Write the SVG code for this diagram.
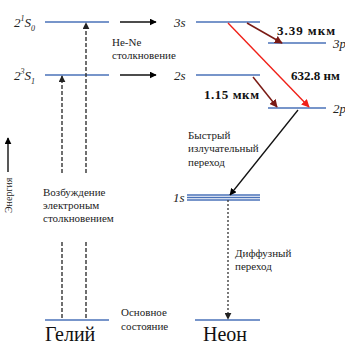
<svg xmlns="http://www.w3.org/2000/svg" width="345" height="345" viewBox="0 0 345 345" font-family="Liberation Serif, Times New Roman, Times, DejaVu Serif, serif">
<defs>
<marker id="ah" viewBox="0 0 10 10" refX="9" refY="5" markerWidth="7" markerHeight="7" orient="auto" markerUnits="userSpaceOnUse"><path d="M0,0 L10,5 L0,10 z" fill="#000"/></marker>
<marker id="ahd" viewBox="0 0 10 10" refX="9" refY="5" markerWidth="7" markerHeight="7" orient="auto" markerUnits="userSpaceOnUse"><path d="M0,0 L10,5 L0,10 z" fill="#222"/></marker>
<marker id="ahr" viewBox="0 0 10 10" refX="9" refY="5" markerWidth="8" markerHeight="8" orient="auto" markerUnits="userSpaceOnUse"><path d="M0,0 L10,5 L0,10 z" fill="#f02018"/></marker>
<marker id="ahb" viewBox="0 0 10 10" refX="9" refY="5" markerWidth="8" markerHeight="8" orient="auto" markerUnits="userSpaceOnUse"><path d="M0,0 L10,5 L0,10 z" fill="#7a1a14"/></marker>
</defs>
<style>
.lv{stroke:#4a72b8;stroke-width:1.6;fill:none}
.t{font-size:11px;fill:#222}
.lab{font-size:13px;font-style:italic;fill:#222}
.big{font-size:20px;fill:#111}
.bold{font-size:13px;font-weight:bold;fill:#111}
.dash{stroke:#333;stroke-width:1.4;stroke-dasharray:4,2;fill:none}
.dot{stroke:#333;stroke-width:1.3;stroke-dasharray:2,2;fill:none}
</style>
<rect width="345" height="345" fill="#fff"/>
<g id="he-2s0"><line class="lv" x1="45" y1="22" x2="109" y2="22"/><text class="lab" x="14" y="27">2<tspan dy="-6" font-size="8">1</tspan><tspan dy="6">S</tspan><tspan dy="4" font-size="8">0</tspan></text></g>
<g id="he-2s1"><line class="lv" x1="45" y1="75" x2="109" y2="75"/><text class="lab" x="14" y="80">2<tspan dy="-6" font-size="8">3</tspan><tspan dy="6">S</tspan><tspan dy="4" font-size="8">1</tspan></text></g>
<g id="he-ground"><line class="lv" x1="45" y1="320" x2="109" y2="320"/><text class="t" x="121" y="316">Основное</text><text class="t" x="121" y="330">состояние</text><text class="big" x="45" y="341">Гелий</text></g>
<g id="ne-3s"><line class="lv" x1="196" y1="22" x2="260" y2="22"/><text class="lab" x="174" y="27">3s</text></g>
<g id="ne-2s"><line class="lv" x1="196" y1="75" x2="260" y2="75"/><text class="lab" x="174" y="80">2s</text></g>
<g id="ne-3p"><line class="lv" x1="268" y1="43" x2="326" y2="43"/><text class="lab" x="333" y="48">3p</text></g>
<g id="ne-2p"><line class="lv" x1="268" y1="108" x2="326" y2="108"/><text class="lab" x="333" y="113">2p</text></g>
<g id="ne-1s"><line class="lv" x1="187" y1="195" x2="260" y2="195" stroke-width="1.2"/><line class="lv" x1="187" y1="197.5" x2="260" y2="197.5" stroke-width="1.2"/><line class="lv" x1="187" y1="200" x2="260" y2="200" stroke-width="1.2"/><text class="lab" x="173" y="202">1s</text></g>
<g id="ne-ground"><line class="lv" x1="195" y1="320" x2="260" y2="320"/><text class="big" x="203" y="341">Неон</text></g>
<g id="energy"><line x1="8" y1="172" x2="8" y2="138" stroke="#111" stroke-width="1.4" marker-end="url(#ah)"/><text class="t" style="font-size:10px" transform="translate(11.5,213) rotate(-90)">Энергия</text></g>
<g id="labels">
<text class="t" x="112" y="46">He-Ne</text><text class="t" x="112" y="59">столкновение</text>
<text class="t" x="43" y="196">Возбуждение</text><text class="t" x="43" y="209">электроным</text><text class="t" x="43" y="222">столкновением</text>
<text class="t" x="188" y="139">Быстрый</text><text class="t" x="188" y="152">излучательный</text><text class="t" x="188" y="166">переход</text>
<text class="t" x="235" y="257">Диффузный</text><text class="t" x="235" y="270">переход</text>
<text class="bold" x="277" y="35" textLength="58">3.39 мкм</text>
<text class="bold" x="291" y="80">632.8 нм</text>
<text class="bold" x="204" y="99" textLength="55">1.15 мкм</text>
</g>
<g id="connectors">
<line class="dash" x1="62" y1="318" x2="62" y2="240"/>
<line class="dash" x1="62" y1="173" x2="62" y2="76" marker-end="url(#ahd)"/>
<line class="dash" x1="86" y1="318" x2="86" y2="240"/>
<line class="dash" x1="86" y1="173" x2="86" y2="23" marker-end="url(#ahd)"/>
<line x1="120" y1="22" x2="156" y2="22" stroke="#111" stroke-width="1.3" marker-end="url(#ah)"/>
<line x1="120" y1="75" x2="156" y2="75" stroke="#111" stroke-width="1.3" marker-end="url(#ah)"/>
<line x1="247" y1="23" x2="282" y2="43" stroke="#7a1a14" stroke-width="1.5" marker-end="url(#ahb)"/>
<line x1="253" y1="77" x2="277" y2="107" stroke="#7a1a14" stroke-width="1.5" marker-end="url(#ahb)"/>
<line x1="228" y1="23" x2="309" y2="107" stroke="#f02018" stroke-width="1.4" marker-end="url(#ahr)"/>
<line x1="298" y1="110" x2="230" y2="195" stroke="#111" stroke-width="1.3" marker-end="url(#ah)"/>
<line class="dot" x1="228" y1="200" x2="228" y2="319" marker-end="url(#ahd)"/>
</g>
</svg>
